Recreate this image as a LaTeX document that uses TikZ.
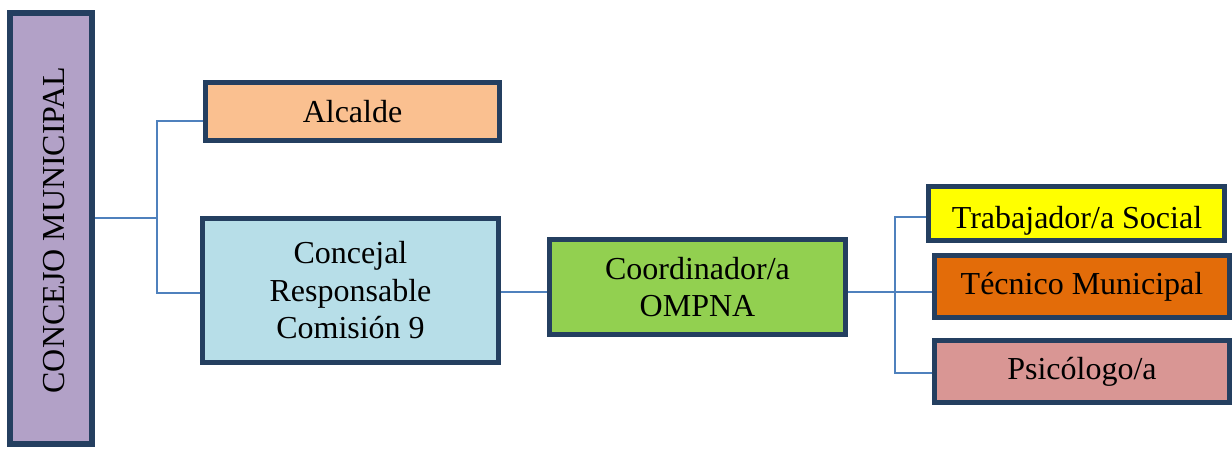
\documentclass[tikz,border=0pt]{standalone}
\usepackage{fontspec}
\setmainfont{Liberation Serif}
\definecolor{bordc}{HTML}{243F60}
\definecolor{connc}{HTML}{4F81BD}
\definecolor{cpurple}{HTML}{B2A1C7}
\definecolor{corange}{HTML}{FAC090}
\definecolor{cblue}{HTML}{B7DEE8}
\definecolor{cgreen}{HTML}{92D050}
\definecolor{cyellow}{HTML}{FFFF00}
\definecolor{cdorange}{HTML}{E36C09}
\definecolor{cpink}{HTML}{D99694}
\begin{document}
\begin{tikzpicture}[x=1pt,y=-1pt,
  box/.style={draw=bordc, line width=5pt, inner sep=0pt, align=center,
    font=\fontsize{32}{37.5}\selectfont},
  lbl/.style={inner sep=0pt, align=center, font=\fontsize{32}{37.5}\selectfont},
  conn/.style={draw=connc, line width=1.6pt}]
\useasboundingbox (0,0) rectangle (1232,449);
\node[box, line width=6pt, fill=cpurple, minimum width=82pt, minimum height=431pt] (concejo) at (51,228.5) {};
\node[lbl, rotate=90] (concejot) at (54,230) {CONCEJO MUNICIPAL};
\node[box, fill=corange, minimum width=294pt, minimum height=58pt] (alcalde) at (352.5,111.5) {Alcalde};
\node[box, fill=cblue, minimum width=296pt, minimum height=144pt] (concejal) at (350.5,290.5) {Concejal\\Responsable\\Comisión 9};
\node[box, fill=cgreen, minimum width=296pt, minimum height=95pt] (coord) at (697.5,287) {Coordinador/a\\OMPNA};
\node[box, fill=cyellow, minimum width=296pt, minimum height=54pt] (trab) at (1076.5,213.5) {};
\begin{scope}
\clip (trab.north west) ++(2.5,2.5) rectangle ([shift={(-2.5,-2.5)}]trab.south east);
\node[lbl] (trabt) at (1077,221) {Trabajador/a Social};
\end{scope}
\node[box, fill=cdorange, minimum width=295pt, minimum height=62pt] (tecn) at (1082,286.5) {Técnico Municipal};
\node[box, fill=cpink, minimum width=295pt, minimum height=62pt] (psic) at (1082,371.5) {Psicólogo/a};
% junctions
\coordinate (j1) at (157,218);
\coordinate (ja) at (157,121);
\coordinate (jc) at (157,293);
\coordinate (j2) at (895,292);
\coordinate (jt) at (895,217);
\coordinate (jp) at (895,373);
\draw[conn] (j1 -| concejo.east) -- (j1);
\draw[conn] (ja -| alcalde.west) -- (ja) -- (jc) -- (jc -| concejal.west);
\draw[conn] (j2 -| concejal.east) -- (j2 -| coord.west);
\draw[conn] (j2 -| coord.east) -- (j2 -| tecn.west);
\draw[conn] (jt -| trab.west) -- (jt) -- (jp) -- (jp -| psic.west);
\end{tikzpicture}
\end{document}
